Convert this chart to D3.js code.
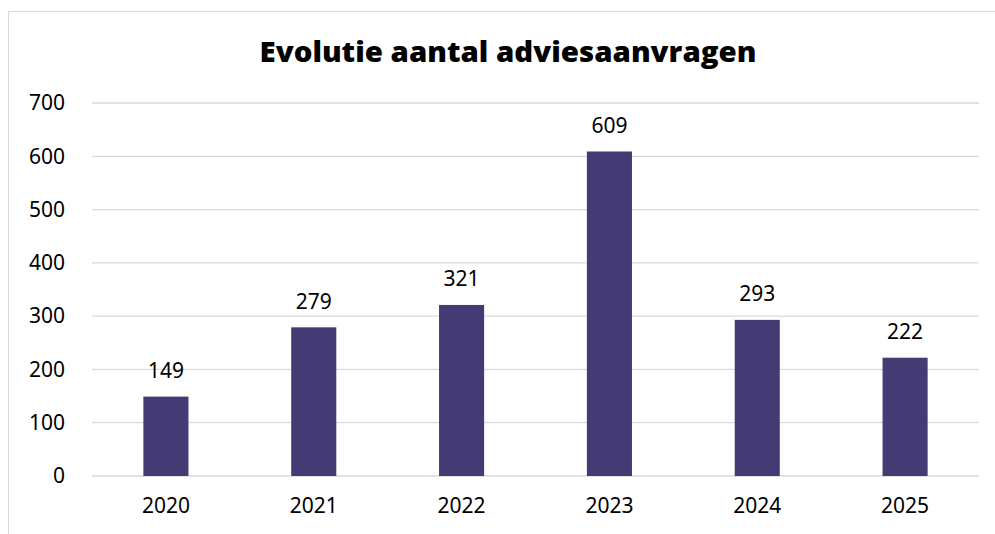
<!DOCTYPE html>
<html><head><meta charset="utf-8">
<script src="https://cdn.jsdelivr.net/npm/d3@7"></script>
<style>body{margin:0;background:#fff}svg{display:block}</style>
</head><body>
<svg id="c" width="995" height="534"></svg>
<script>
const years = ["2020","2021","2022","2023","2024","2025"];
const values = [149, 279, 321, 609, 293, 222];
const yTicks = [0,100,200,300,400,500,600,700];
const title = "Evolutie aantal adviesaanvragen";

const svg = d3.select("#c");
const W = 995, H = 534;
const m = {left: 92, right: 16, top: 103, bottom: 58};

svg.append("rect").attr("x",8.5).attr("y",11.5).attr("width",W+10).attr("height",H+10)
  .attr("fill","#fff").attr("stroke","#d9d9d9").attr("stroke-width",1);

const x = d3.scaleBand().domain(years).range([m.left, W - m.right]).paddingInner(0.695).paddingOuter(0.3475);
const y = d3.scaleLinear().domain([0,700]).range([H - m.bottom, m.top]);

const font = "'Noto Sans', 'Liberation Sans', sans-serif";
const fs = 21;

// gridlines
svg.append("g").selectAll("line").data(yTicks).join("line")
  .attr("x1", m.left).attr("x2", W - m.right)
  .attr("y1", d => y(d)).attr("y2", d => y(d))
  .attr("stroke", "#d9d9d9").attr("stroke-width", 1.3);

// y axis labels
const yAxis = d3.axisLeft(y).tickValues(yTicks).tickSize(0).tickPadding(27);
const gy = svg.append("g").attr("transform", `translate(${m.left},0)`).call(yAxis);
gy.select(".domain").remove();
gy.selectAll("text").attr("font-family", font).attr("font-size", fs).attr("fill", "#000");

// x axis labels
const xAxis = d3.axisBottom(x).tickSize(0).tickPadding(22);
const gx = svg.append("g").attr("transform", `translate(0,${y(0)})`).call(xAxis);
gx.select(".domain").remove();
gx.selectAll("text").attr("font-family", font).attr("font-size", fs).attr("fill", "#000");

// bars
svg.append("g").selectAll("rect").data(values).join("rect")
  .attr("x", (d,i) => x(years[i]))
  .attr("width", x.bandwidth())
  .attr("y", d => y(d))
  .attr("height", d => y(0) - y(d))
  .attr("fill", "#443a74");

// value labels
svg.append("g").selectAll("text").data(values).join("text")
  .attr("x", (d,i) => x(years[i]) + x.bandwidth()/2)
  .attr("y", d => y(d) - 18.5)
  .attr("text-anchor", "middle")
  .attr("font-family", font).attr("font-size", fs).attr("fill", "#000")
  .text(d => d);

// title
svg.append("text").attr("x", 508).attr("y", 62).attr("text-anchor", "middle")
  .attr("font-family", "'Open Sans', Lato, sans-serif").attr("font-weight", 800)
  .attr("font-size", 29).attr("fill", "#000").attr("textLength", 497).attr("lengthAdjust","spacingAndGlyphs").text(title);
</script>
</body></html>
